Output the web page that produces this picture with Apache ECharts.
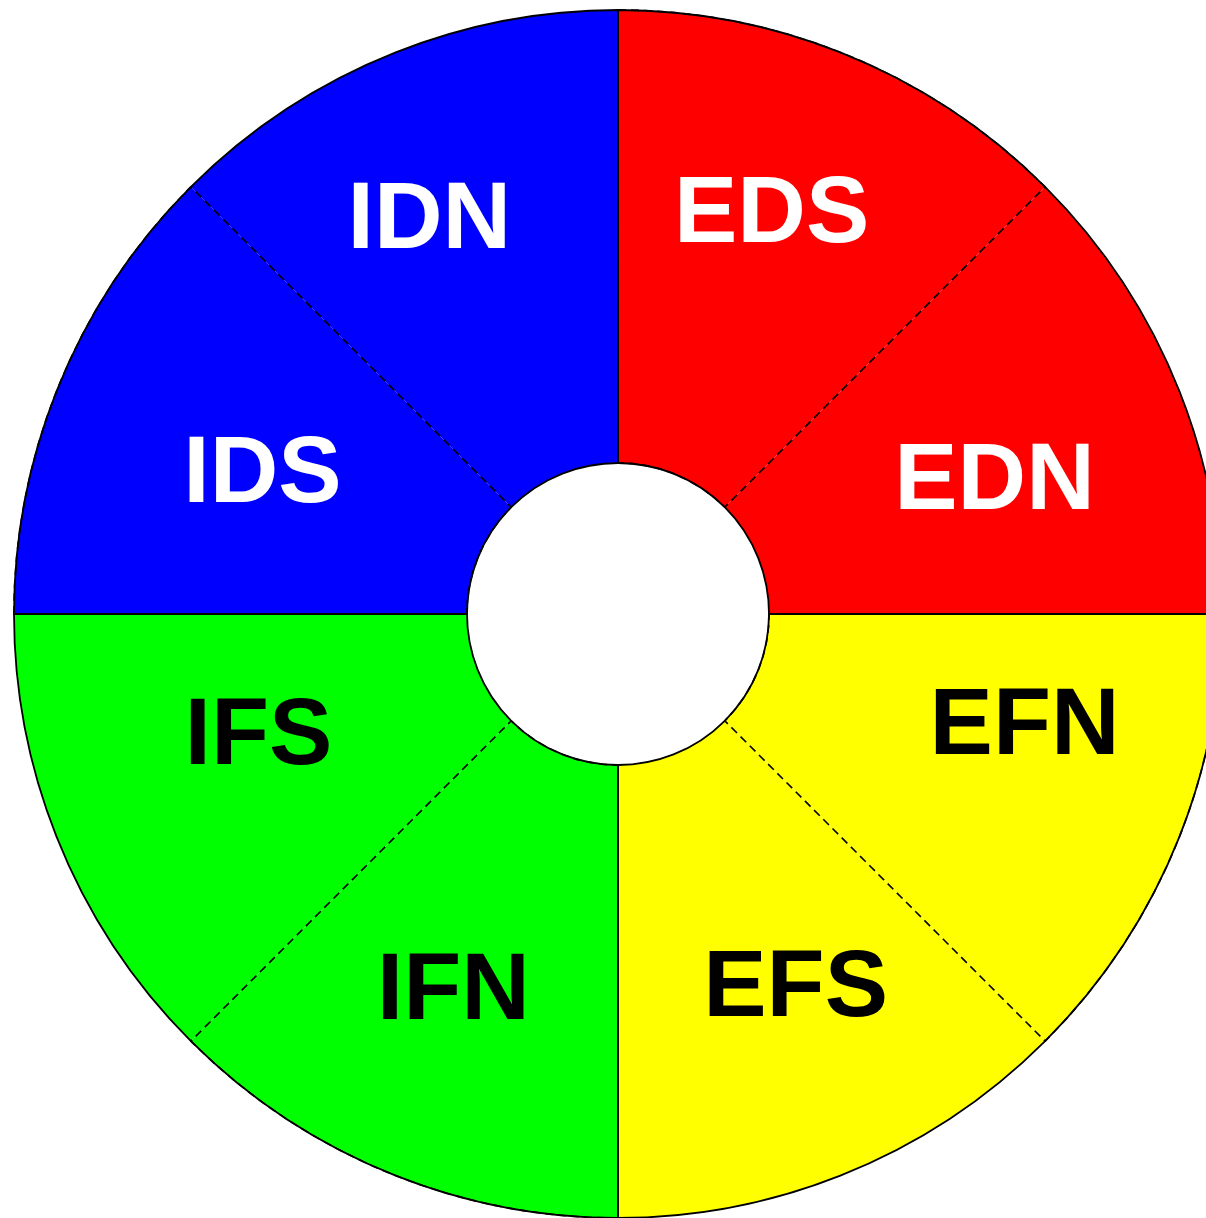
<!DOCTYPE html>
<html>
<head>
<meta charset="utf-8">
<script src="https://cdn.jsdelivr.net/npm/echarts@6/dist/echarts.min.js"></script>
<style>
  html, body { margin: 0; padding: 0; background: #ffffff; }
  #chart { width: 1206px; height: 1218px; }
</style>
</head>
<body>
<div id="chart"></div>
<script>
// Slices, clockwise from 12 o'clock
const categories = ['EDS', 'EDN', 'EFN', 'EFS', 'IFN', 'IFS', 'IDS', 'IDN'];
const sliceValues = [1, 1, 1, 1, 1, 1, 1, 1];
// Quadrant groups (each spans two slices)
const groupNames = ['ED', 'EF', 'IF', 'ID'];
const groupValues = [2, 2, 2, 2];

// Styling (kept apart from data)
const groupColors = ['#ff0000', '#ffff00', '#00ff00', '#0000ff'];
const groupTextColors = ['#ffffff', '#000000', '#000000', '#ffffff'];
const labelNudges = [[8, -47], [25, 14], [55, -32], [32, 24], [-19, 27], [-8, -22], [-4, 7], [-43, -41]];

const center = [618, 614];
const radius = [151, 604];

const sliceData = categories.map((name, i) => {
  const g = Math.floor(i / 2);
  return {
    name: name,
    value: sliceValues[i],
    itemStyle: { color: groupColors[g] },
    label: { color: groupTextColors[g], offset: labelNudges[i] }
  };
});

// dashed outline on every other slice so each within-quadrant divider is drawn once
const dividerData = categories.map((name, i) => ({
  name: name,
  value: sliceValues[i],
  itemStyle: i % 2 === 0
    ? { color: 'rgba(0,0,0,0)', borderColor: '#000000', borderWidth: 1.6, borderType: [8, 5] }
    : { color: 'rgba(0,0,0,0)', borderWidth: 0 }
}));

const groupData = groupNames.map((name, i) => ({ name: name, value: groupValues[i] }));

const chart = echarts.init(document.getElementById('chart'), null, { renderer: 'canvas' });
chart.setOption({
  animation: false,
  backgroundColor: '#ffffff',
  series: [
    {
      type: 'pie',
      center: center,
      radius: radius,
      startAngle: 90,
      clockwise: true,
      avoidLabelOverlap: false,
      silent: true,
      itemStyle: { borderWidth: 0 },
      label: {
        show: true,
        position: 'inside',
        formatter: '{b}',
        fontFamily: '"Liberation Sans", Arial, sans-serif',
        fontWeight: 'bold',
        fontSize: 95
      },
      labelLine: { show: false },
      emphasis: { disabled: true },
      data: sliceData
    },
    {
      type: 'pie',
      center: center,
      radius: radius,
      startAngle: 90,
      clockwise: true,
      silent: true,
      label: { show: false },
      labelLine: { show: false },
      emphasis: { disabled: true },
      data: dividerData
    },
    {
      type: 'pie',
      center: center,
      radius: radius,
      startAngle: 90,
      clockwise: true,
      silent: true,
      itemStyle: { color: 'rgba(0,0,0,0)', borderColor: '#000000', borderWidth: 1.8, borderType: 'solid' },
      label: { show: false },
      labelLine: { show: false },
      emphasis: { disabled: true },
      data: groupData
    }
  ]
});
</script>
</body>
</html>
